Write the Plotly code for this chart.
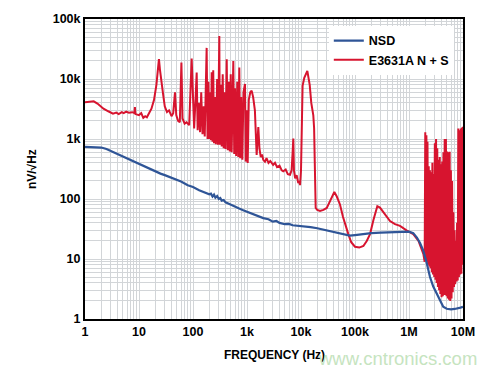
import plotly.graph_objects as go

# ---------------- data ----------------
nsd_freq = [1, 1.5, 2, 2.5, 3, 3.5, 4, 5, 6, 7, 8, 10, 12, 15, 20, 25, 30, 40, 50, 60, 80, 100,
            130, 160, 200, 215, 230, 245, 260, 280, 300, 320, 340, 370, 400, 450, 500, 600, 700,
            850, 1000, 1500, 2000, 2500, 3000, 3500, 4000, 5000, 6000, 7000, 10000, 15000, 20000,
            30000, 40000, 50000, 70000, 80000, 100000, 150000, 200000, 300000, 500000, 700000,
            1000000, 1200000, 1400000, 1600000, 1840000, 2100000, 2450000, 2800000, 3250000,
            3800000, 4300000, 5000000, 6000000, 7000000, 8000000, 9000000, 10000000]
nsd_vals = [740, 735, 720, 680, 630, 590, 560, 510, 475, 450, 420, 385, 350, 320, 285, 265, 250, 225,
            205, 195, 170, 158, 140, 130, 120, 123, 110, 118, 105, 112, 100, 104, 94, 96, 88, 84, 80,
            74, 70, 65, 61, 53, 48, 46, 42, 43, 40, 38, 38.5, 36.5, 35.5, 34, 32.5, 30, 28, 27, 25,
            24.5, 25, 26.5, 27, 27.5, 28, 28.5, 28.5, 27, 22.8, 18.5, 13.8, 9, 5, 3.5, 2.65, 1.9,
            1.6, 1.48, 1.45, 1.47, 1.5, 1.55, 1.6]

red_freq_low = [1, 1.2, 1.45, 1.7, 2.2, 2.7, 3.3, 3.8, 4.2, 4.8, 5.2, 5.8, 6.5, 7.5, 8.2, 8.4, 8.6, 10,
                11, 12, 13, 14, 15, 17, 19, 21, 22.5, 23.4, 24.5, 26.3, 28, 30, 33, 36, 40, 43, 46.4,
                49, 53, 57, 61, 64, 70, 76, 85, 94.5]
red_vals_low = [4100, 4200, 4250, 3900, 3200, 2900, 2650, 2750, 2600, 2800, 2700, 2850, 2750, 2800,
                2700, 3400, 2600, 2500, 2700, 2250, 2400, 2300, 2600, 3200, 4500, 8000, 15000, 21500,
                14000, 7700, 5500, 3500, 2800, 3000, 2400, 2700, 6000, 2500, 2000, 1900, 18800, 2200,
                1800, 1900, 1700, 22000]

red_freq_mid = [100, 105, 112, 117, 122, 128, 135, 142, 150, 158, 165, 172, 179, 186, 193, 200, 208,
                215, 222, 230, 237, 245, 255, 265, 280, 290, 300, 307, 314, 325, 340, 355, 370, 385,
                400, 421, 440, 460, 480, 500, 520, 540, 558, 580, 600, 630, 660, 690, 720, 750, 780,
                820, 860, 918, 950, 990, 1030, 1080, 1150, 1220, 1300, 1400, 1480, 1510, 1560, 1620,
                1700, 1800, 1900, 2000, 2150, 2300, 2500, 2700, 3050, 3300, 3600, 4000, 4400, 4700,
                5200, 5700, 6260, 6700, 7000, 7200, 7400, 7800, 8300, 8900, 9300, 9600]
red_vals_mid = [3000, 1500, 5000, 12800, 1400, 4000, 1300, 6000, 1200, 3500, 1100, 8000, 33000, 1000,
                9000, 1000, 6000, 950, 13000, 900, 14000, 850, 5000, 820, 10000, 800, 30000, 52000,
                800, 8000, 750, 12000, 700, 6000, 680, 21300, 650, 9000, 620, 12000, 600, 8000, 20000,
                560, 7000, 520, 9000, 500, 15500, 480, 5000, 450, 6000, 8240, 420, 3000, 400, 4500,
                6000, 6400, 5000, 3000, 1200, 540, 900, 1580, 700, 500, 550, 450, 420, 480, 400, 430,
                370, 400, 340, 360, 300, 290, 310, 260, 254, 300, 600, 1020, 300, 220, 250, 184, 200,
                170]

red_freq_hi = [10000, 10400, 10700, 11500, 13100, 14500, 15500, 16900, 17500, 18000, 18700, 20000,
               22500, 26000, 30000, 35000, 41400, 46000, 52700, 60000, 67000, 75200, 85000, 100000,
               120000, 143000, 165000, 190000, 220000, 259000, 290000, 359000, 445000, 550000, 681000,
               900000, 1200000, 1500000, 1720000, 1850000, 1950000]
red_vals_hi = [300, 2500, 7700, 10500, 13700, 8000, 4000, 2480, 1500, 400, 71, 66, 63, 66, 71, 95, 131,
               110, 81, 50, 35, 26, 19, 16, 15.5, 16.5, 20, 26, 45, 76, 72, 55, 43, 38, 35.6, 30, 26,
               20, 14.7, 12, 9]

red_freq_top = [2.00e6, 2.05e6, 2.10e6, 2.15e6, 2.20e6, 2.26e6, 2.32e6, 2.38e6, 2.44e6, 2.50e6,
                2.57e6, 2.64e6, 2.71e6, 2.78e6, 2.85e6, 2.93e6, 3.01e6, 3.09e6, 3.17e6, 3.25e6,
                3.34e6, 3.43e6, 3.52e6, 3.61e6, 3.71e6, 3.81e6, 3.91e6, 4.01e6, 4.12e6, 4.23e6,
                4.34e6, 4.46e6, 4.58e6, 4.70e6, 4.83e6, 4.96e6, 5.09e6, 5.23e6, 5.37e6, 5.51e6,
                5.66e6, 5.81e6, 5.97e6, 6.13e6, 6.29e6, 6.46e6, 6.63e6, 6.81e6, 6.99e6, 7.18e6,
                7.37e6, 7.57e6, 7.77e6, 7.98e6, 8.19e6, 8.41e6, 8.64e6, 8.87e6, 9.11e6, 9.35e6,
                9.60e6, 9.85e6, 10.0e6]
red_vals_top = [1300, 11, 1150, 9, 900, 8, 350, 7.5, 300, 7, 280, 6, 400, 5.5, 260, 5, 850, 4.5, 1000,
                4, 700, 3.4, 450, 3, 500, 2.6, 380, 2.3, 420, 2.4, 600, 2.5, 1000, 2.5, 1000, 2.4, 620,
                2.2, 600, 2.1, 615, 2.0, 300, 2.2, 200, 2.8, 60, 3.4, 30, 3.8, 20, 4.2, 40, 4.4, 1500,
                5, 1400, 5.5, 1500, 5.7, 1550, 8, 1600]

red_freq = red_freq_low + red_freq_mid + red_freq_hi + red_freq_top
red_vals = red_vals_low + red_vals_mid + red_vals_hi + red_vals_top

x_tick_vals = [1, 10, 100, 1e3, 1e4, 1e5, 1e6, 1e7]
x_tick_text = ["1", "10", "100", "1k", "10k", "100k", "1M", "10M"]
y_tick_vals = [1, 10, 100, 1e3, 1e4, 1e5]
y_tick_text = ["1", "10", "100", "1k", "10k", "100k"]

# ---------------- style ----------------
BLUE = "#2f5597"
RED = "#d7142f"
GRID = "#d2d5d8"
FONT = "Liberation Sans"

minor_x = [m * 10 ** d for d in range(0, 7) for m in range(2, 10)]
minor_y = [m * 10 ** d for d in range(0, 5) for m in range(2, 10)]

fig = go.Figure()
fig.add_trace(go.Scatter(x=red_freq, y=red_vals, mode="lines", name="E3631A N + S",
                         line=dict(color=RED, width=2), legendrank=2))
fig.add_trace(go.Scatter(x=nsd_freq, y=nsd_vals, mode="lines", name="NSD",
                         line=dict(color=BLUE, width=2.2), legendrank=1))

axis_common = dict(type="log", showline=True, linecolor="black", linewidth=2, mirror=True,
                   showgrid=True, gridcolor=GRID, gridwidth=1, ticks="", zeroline=False,
                   tickfont=dict(family=FONT, size=12.5, color="black", weight="bold"))

fig.update_xaxes(range=[0, 7], tickvals=x_tick_vals, ticktext=x_tick_text,
                 minor=dict(tickvals=minor_x, showgrid=True, gridcolor=GRID, gridwidth=1, ticks=""),
                 **axis_common)
fig.update_yaxes(range=[0, 5], tickvals=y_tick_vals, ticktext=y_tick_text,
                 minor=dict(tickvals=minor_y, showgrid=True, gridcolor=GRID, gridwidth=1, ticks=""),
                 **axis_common)

fig.update_layout(
    width=500, height=374,
    margin=dict(l=85, r=37, t=16, b=55),
    paper_bgcolor="white", plot_bgcolor="white",
    showlegend=True,
    legend=dict(x=0.645, y=0.977, xanchor="left", yanchor="top", bgcolor="white",
                borderwidth=0, font=dict(family=FONT, size=12.5, color="black", weight="bold"),
                itemwidth=30, tracegroupgap=0),
    annotations=[
        dict(text="FREQUENCY (Hz)", xref="paper", yref="paper", x=0.5, y=-0.119,
             xanchor="center", yanchor="middle", showarrow=False,
             font=dict(family=FONT, size=12, color="black", weight="bold")),
        dict(text="nV/√Hz", xref="paper", yref="paper", x=-0.14, y=0.5, textangle=-90,
             xanchor="center", yanchor="middle", showarrow=False,
             font=dict(family=FONT, size=12, color="black", weight="bold")),
        dict(text="www.cntronics.com", xref="paper", yref="paper", x=0.828, y=-0.132,
             xanchor="center", yanchor="middle", showarrow=False,
             font=dict(family=FONT, size=18.5, color="#c6e4bf")),
    ],
)

fig.write_html("out.html", config={"displayModeBar": False},
               post_script="document.body.style.margin='0';")
